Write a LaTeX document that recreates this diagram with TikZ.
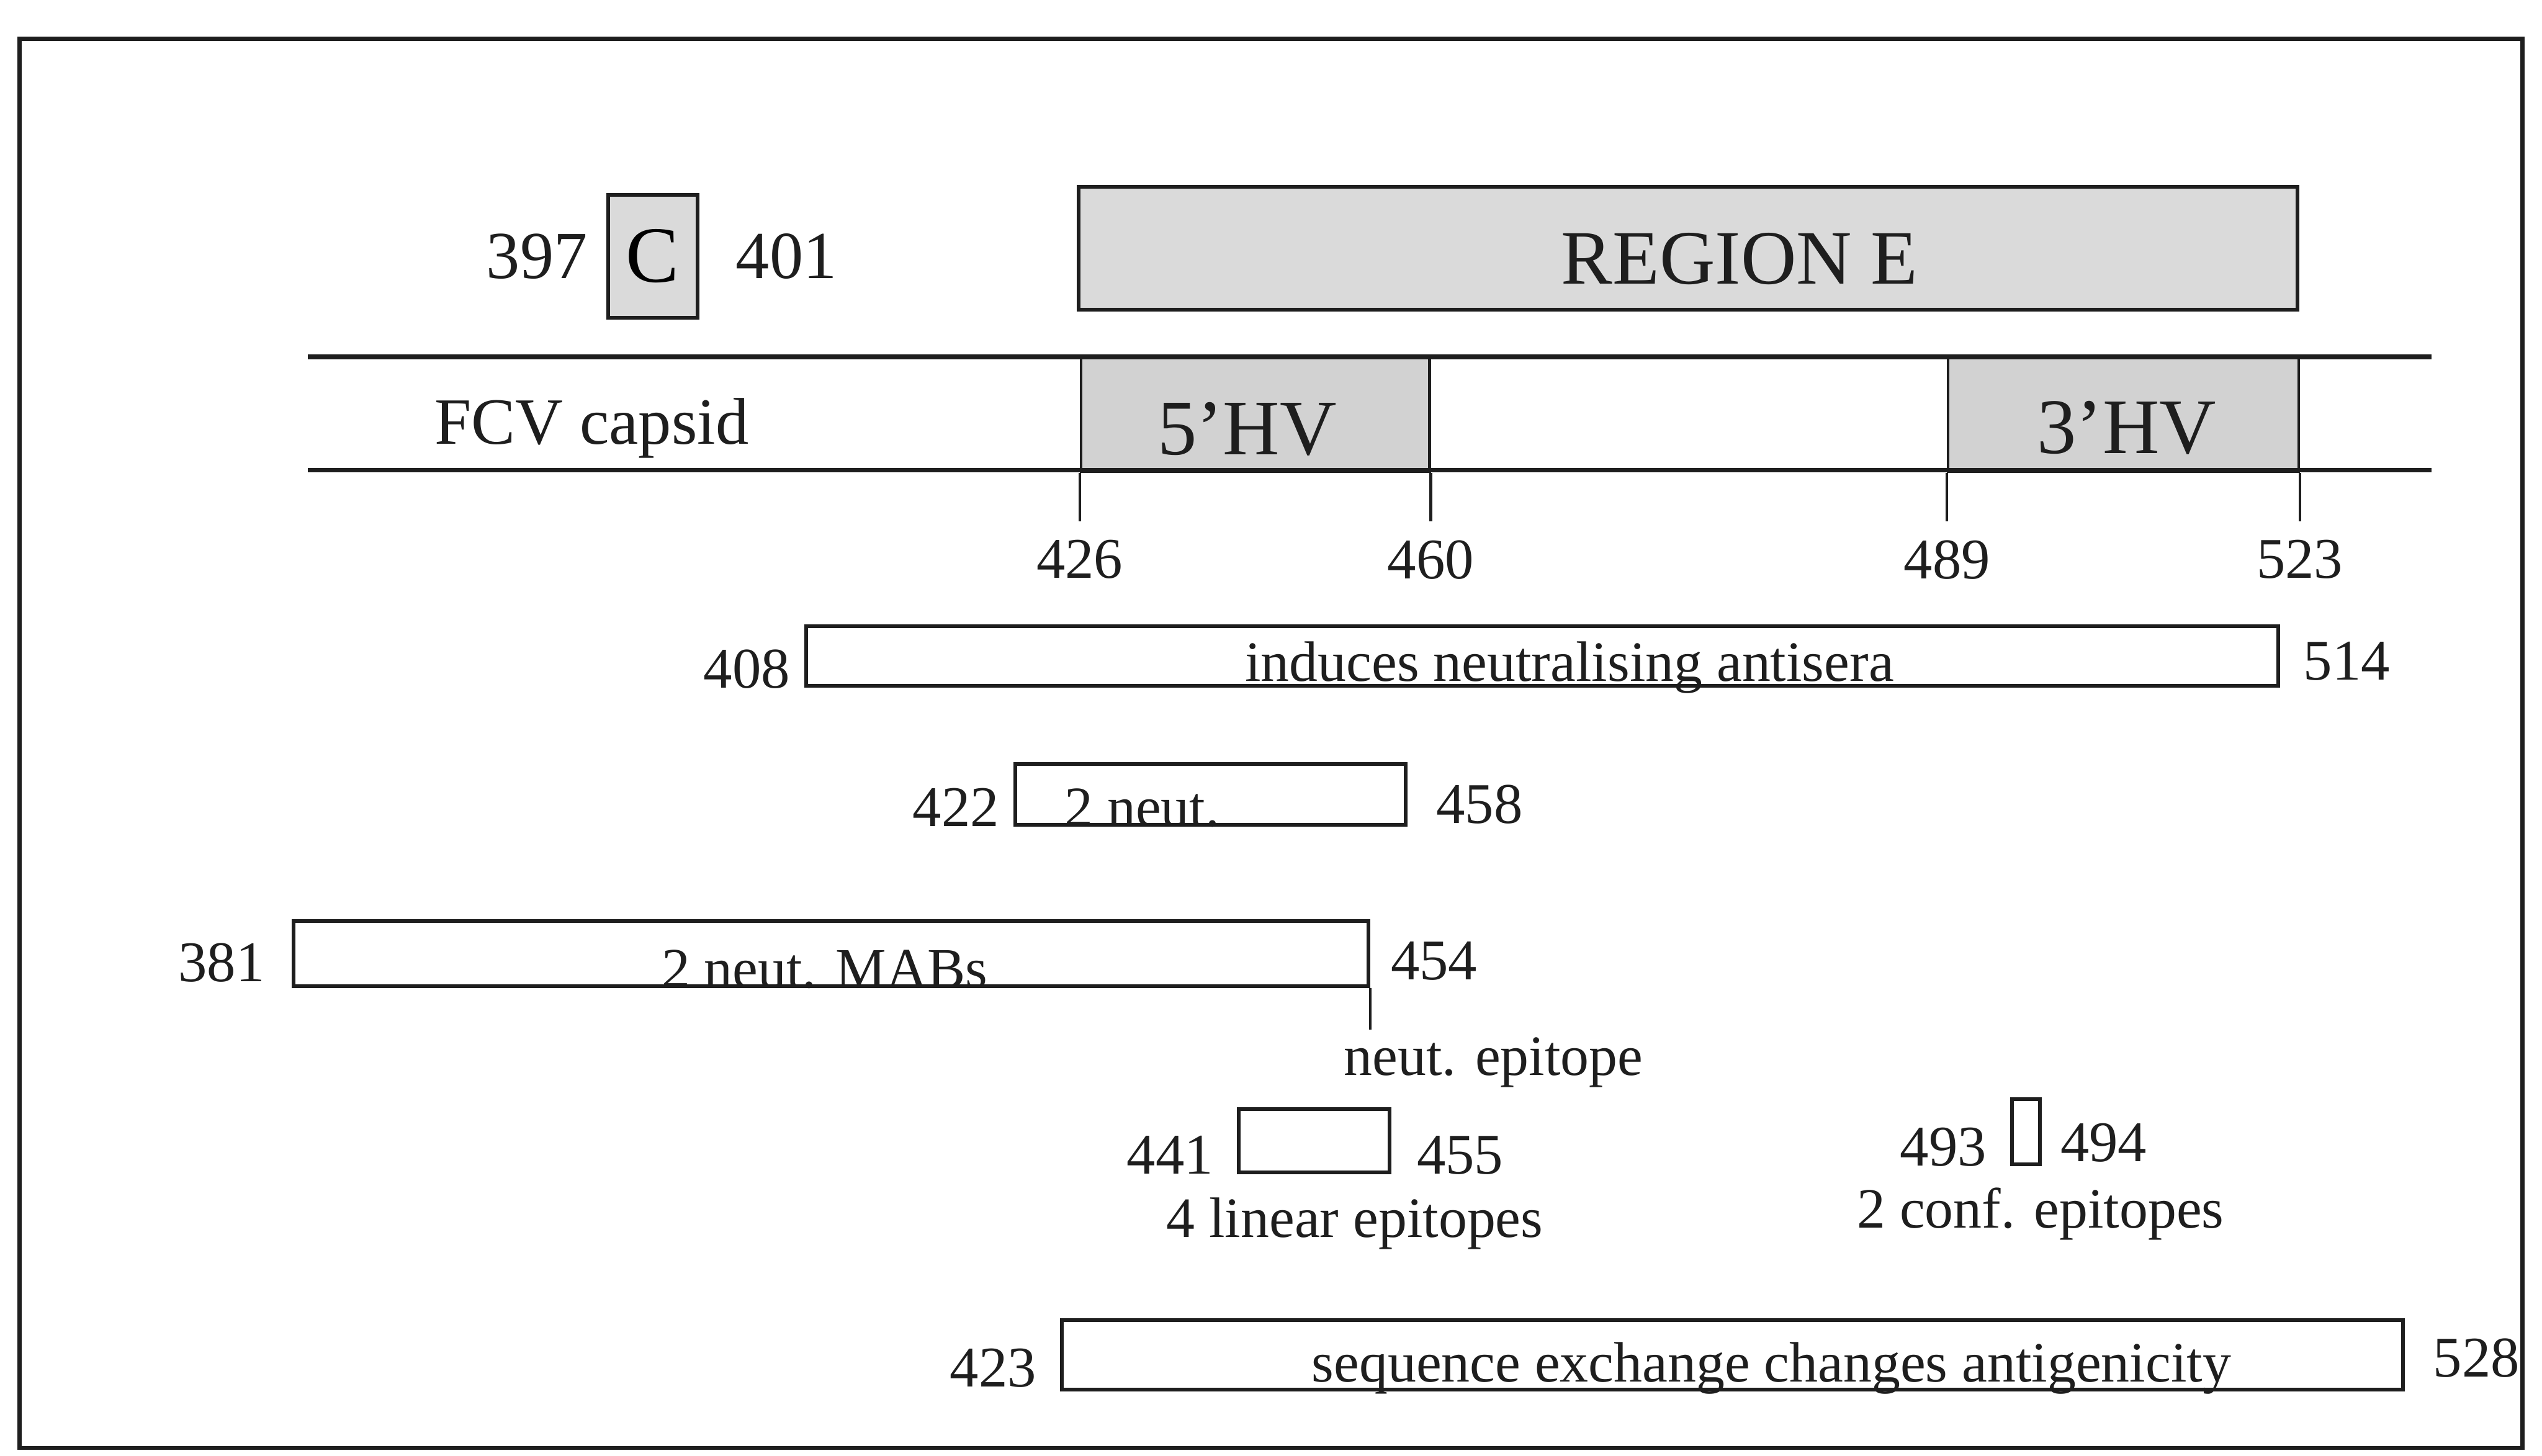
\documentclass[tikz,border=0pt]{standalone}
\usepackage{fontspec}
\setmainfont{Liberation Serif}
\usetikzlibrary{positioning}
\definecolor{ink}{HTML}{1E1E1E}
\definecolor{regfill}{HTML}{DADADA}
\definecolor{hvfill}{HTML}{D2D2D2}
\tikzset{
  seg/.style    = {draw=ink, line width=0.65pt, inner sep=0pt, anchor=north west},
  shade/.style  = {seg, fill=regfill},
  hv/.style     = {draw=ink, fill=hvfill, line width=0.45pt, inner sep=0pt, anchor=north west},
  band/.style   = {draw=ink, line width=0.85pt},
  tick/.style   = {draw=ink, line width=0.45pt},
  num/.style    = {font=\fontsize{10.1}{12}\selectfont, text=ink, inner sep=0pt},
  lnum/.style   = {num, anchor=base east},
  rnum/.style   = {num, anchor=base west},
  bignum/.style = {font=\fontsize{11.8}{14}\selectfont, text=ink, inner sep=0pt},
  lbl/.style    = {font=\fontsize{10}{12}\selectfont, text=ink, inner sep=0pt},
  big/.style    = {font=\fontsize{14}{16}\selectfont, text=ink, inner sep=0pt},
}

\begin{document}
\begin{tikzpicture}[x=0.1mm,y=-0.1mm]
  \useasboundingbox (0,0) rectangle (1568,898);
  \draw[draw=ink,line width=0.7pt] (12,24) rectangle (1556,893);
  % region C and region E
  \node[shade, minimum width=5.5mm, minimum height=7.6mm, font=\fontsize{14}{16}\selectfont] (cbox) at (374,119) {C};
  \node[bignum, left=1.1mm of cbox] (c397) {397};
  \node[bignum, right=2.2mm of cbox] (c401) {401};
  \node[shade, minimum width=75.2mm, minimum height=7.6mm] (rege) at (664,114) {};
  \node[big, font=\fontsize{13.5}{16}\selectfont, anchor=base] (regetxt) at ([xshift=3.2mm,yshift=1.7mm]rege.south) {REGION E};
  % capsid band
  \node[hv, minimum width=21.5mm, minimum height=7mm] (hv5) at (666,220) {};
  \node[hv, minimum width=21.6mm, minimum height=7mm] (hv3) at (1201,220) {};
  \draw[band] (190,220) -- (1500,220);
  \draw[band] (190,290) -- (1500,290);
  \node[lbl, font=\fontsize{11.6}{14}\selectfont, anchor=base] (capsid) at (365,274) {FCV capsid};
  \node[big, font=\fontsize{13.8}{16}\selectfont, anchor=base] (hv5txt) at ([xshift=-0.5mm,yshift=1.1mm]hv5.south) {5’HV};
  \node[big, font=\fontsize{13.8}{16}\selectfont, anchor=base] (hv3txt) at ([xshift=0.2mm,yshift=1.2mm]hv3.south) {3’HV};
  \foreach \nd/\an/\val in {hv5/south west/426, hv5/south east/460, hv3/south west/489, hv3/south east/523}{
    \draw[tick] (\nd.\an) -- ++(0,30) coordinate (t\val);
    \node[num, below=1.1mm of t\val] (n\val) {\val};}
  % mapped epitopes
  \node[seg, minimum width=90.8mm, minimum height=3.7mm] (ind) at (496,385) {};
  \node[lbl, anchor=base] (indtxt) at ([xshift=1.7mm,yshift=0.4mm]ind.south) {induces neutralising antisera};
  \node[lnum] (n408) at ([xshift=-0.8mm]ind.south west) {408};
  \node[rnum] (n514) at ([xshift=1.4mm,yshift=0.5mm]ind.south east) {514};
  \node[seg, minimum width=24.1mm, minimum height=3.75mm] (n2) at (625,470) {};
  \node[lbl, anchor=base west] (n2txt) at ([xshift=3.1mm]n2.south west) {2 neut.};
  \node[lnum] (n422) at ([xshift=-0.8mm]n2.south west) {422};
  \node[rnum] (n458) at ([xshift=1.7mm,yshift=0.2mm]n2.south east) {458};
  \node[seg, minimum width=66.3mm, minimum height=4mm] (mabs) at (180,567) {};
  \node[lbl, anchor=base] (mabstxt) at ([xshift=-0.4mm]mabs.south) {2 neut. MABs};
  \node[lnum] (n381) at ([xshift=-1.6mm,yshift=0.4mm]mabs.south west) {381};
  \node[rnum] (n454) at ([xshift=1.2mm,yshift=0.5mm]mabs.south east) {454};
  \draw[tick] (mabs.south east) -- ++(0,26) coordinate (nep);
  \node[lbl, anchor=base west] (neptxt) at ([xshift=-1.7mm,yshift=-2.8mm]nep) {neut. epitope};
  \node[seg, minimum width=9.3mm, minimum height=3.9mm] (lin4) at (763,683) {};
  \node[lnum] (n441) at ([xshift=-1.4mm]lin4.south west) {441};
  \node[rnum] (n455) at ([xshift=1.5mm]lin4.south east) {455};
  \node[lbl, anchor=base] (lin4txt) at ([xshift=2.5mm,yshift=-3.9mm]lin4.south) {4 linear epitopes};
  \node[seg, minimum width=1.7mm, minimum height=4mm] (conf2) at (1240,677) {};
  \node[lnum] (n493) at ([xshift=-1.4mm]conf2.south west) {493};
  \node[rnum] (n494) at ([xshift=1.1mm,yshift=0.3mm]conf2.south east) {494};
  \node[lbl, anchor=base] (conf2txt) at ([xshift=0.9mm,yshift=-3.8mm]conf2.south) {2 conf. epitopes};
  \node[seg, minimum width=82.7mm, minimum height=4.3mm] (seq) at (654,813) {};
  \node[lbl, anchor=base] (seqtxt) at ([xshift=2.4mm,yshift=0.6mm]seq.south) {sequence exchange changes antigenicity};
  \node[lnum] (n423) at ([xshift=-1.4mm,yshift=0.3mm]seq.south west) {423};
  \node[rnum] (n528) at ([xshift=1.7mm,yshift=0.9mm]seq.south east) {528};
\end{tikzpicture}
\end{document}
